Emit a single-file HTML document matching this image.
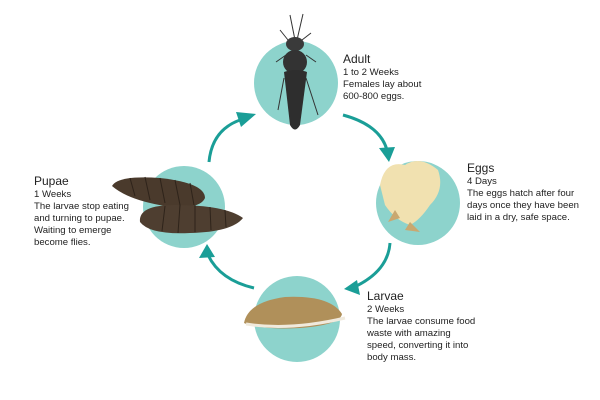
<!DOCTYPE html>
<html><head><style>
body{margin:0;background:#fff;}
svg{display:block}
text{font-family:"Liberation Sans",sans-serif;fill:#222;}
.t{font-size:12px}
.b{font-size:9.6px}
</style></head><body>
<svg width="600" height="400" viewBox="0 0 600 400">
<g fill="#8dd3cc">
<circle cx="296" cy="83" r="42"/>
<circle cx="418" cy="203" r="42"/>
<circle cx="297" cy="319" r="43"/>
<circle cx="184" cy="207" r="41"/>
</g>
<g fill="none" stroke="#1a9e97" stroke-width="3">
<path d="M343,115 Q380,125 387,150"/>
<path d="M390,243 Q388,272 352,288"/>
<path d="M254,288 Q220,280 208,255"/>
<path d="M209,162 Q212,130 240,120"/>
</g>
<g fill="#1a9e97">
<path d="M379,148 L395,147 L389,162 Z"/>
<path d="M357,280 L344,289 L360,295 Z"/>
<path d="M199,258 L207,244 L215,257 Z"/>
<path d="M236,112 L256,114 L241,127 Z"/>
</g>
<g stroke="#333" stroke-width="1" fill="none">
<path d="M295,40 L290,15 M297,40 L303,14 M288,40 L280,30 M302,40 L311,33 M286,55 L276,62 M306,55 L316,62 M284,78 L278,110 M306,78 L318,115"/>
</g>
<ellipse cx="295" cy="44" rx="9" ry="7" fill="#3a3a3a"/>
<ellipse cx="295" cy="62" rx="12" ry="12" fill="#333"/>
<path d="M284,72 Q296,68 307,72 L300,125 Q295,134 290,125 Z" fill="#2e2e2e"/>
<path d="M380,185 Q385,160 405,165 Q420,155 438,170 Q445,190 430,205 Q420,220 410,225 Q395,220 385,205 Z" fill="#f1e1b0"/>
<path d="M395,210 L388,222 L400,218 Z M410,222 L420,232 L405,230 Z" fill="#c9a870"/>
<path d="M244,323 Q248,302 285,297 Q330,295 342,314 Q340,325 300,328 Q260,330 244,323 Z" fill="#b0905a"/>
<path d="M246,324 Q290,331 345,318" stroke="#f0eadd" stroke-width="3" fill="none"/>
<path d="M112,186 Q118,175 160,178 Q205,183 205,198 Q200,210 165,206 Q128,200 112,186 Z" fill="#4a3a2c"/>
<path d="M140,222 Q138,205 175,205 Q225,205 243,218 Q232,232 190,233 Q150,235 140,222 Z" fill="#4e3e30"/>
<g stroke="#2e231a" stroke-width="1" fill="none">
<path d="M130,178 L135,196 M145,177 L150,200 M160,178 L165,203 M175,180 L180,205 M190,183 L194,205"/>
<path d="M165,206 L162,231 M180,205 L178,233 M195,205 L195,232 M210,207 L211,230 M225,210 L226,227"/>
</g>
<text class="t" x="343" y="63">Adult</text>
<text class="b" x="343" y="75">1 to 2 Weeks</text>
<text class="b" x="343" y="87">Females lay about</text>
<text class="b" x="343" y="99">600-800 eggs.</text>
<text class="t" x="467" y="172">Eggs</text>
<text class="b" x="467" y="184">4 Days</text>
<text class="b" x="467" y="196">The eggs hatch after four</text>
<text class="b" x="467" y="208">days once they have been</text>
<text class="b" x="467" y="220">laid in a dry, safe space.</text>
<text class="t" x="367" y="300">Larvae</text>
<text class="b" x="367" y="312">2 Weeks</text>
<text class="b" x="367" y="324">The larvae consume food</text>
<text class="b" x="367" y="336">waste with amazing</text>
<text class="b" x="367" y="348">speed, converting it into</text>
<text class="b" x="367" y="360">body mass.</text>
<text class="t" x="34" y="185">Pupae</text>
<text class="b" x="34" y="197">1 Weeks</text>
<text class="b" x="34" y="209">The larvae stop eating</text>
<text class="b" x="34" y="221">and turning to pupae.</text>
<text class="b" x="34" y="233">Waiting to emerge</text>
<text class="b" x="34" y="245">become flies.</text>
</svg>
</body></html>
